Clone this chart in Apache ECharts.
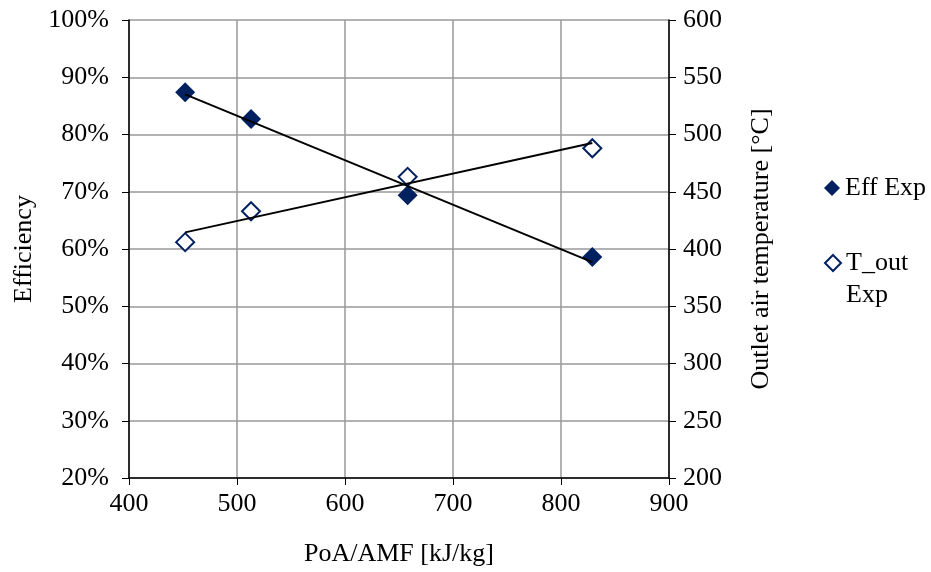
<!DOCTYPE html>
<html>
<head>
<meta charset="utf-8">
<script src="https://cdn.jsdelivr.net/npm/echarts@6/dist/echarts.min.js"></script>
<style>
  html, body { margin: 0; padding: 0; background: #fff; }
  #chart { width: 931px; height: 572px; }
</style>
</head>
<body>
<div id="chart"></div>
<script>
// PoA/AMF [kJ/kg]
const xVals = [452, 513, 658, 829];
// efficiency, %
const effExp = [87.4, 82.7, 69.4, 58.6];
// outlet air temperature, °C
const tOutExp = [406, 433, 463, 488];
// trend line end points
const effTrend = [[452, 87.0], [829, 57.7]];
const tTrend = [[452, 414.5], [829, 492.5]];

const navy = "#002060";
const font = "Liberation Serif";
const fs = 26;

let myChart = echarts.init(document.getElementById("chart"));

let legendBase = {
  orient: "vertical",
  left: 824,
  padding: 0,
  itemWidth: 16,
  itemHeight: 16,
  textStyle: { fontFamily: font, fontSize: fs, color: "#000", lineHeight: 32 }
};

let option = {
  animation: false,
  textStyle: { fontFamily: font, color: "#000" },
  grid: { left: 129, right: 262, top: 20, bottom: 94 },
  legend: [
    Object.assign({}, legendBase, {
      top: 172,
      data: [{ name: "Eff Exp", icon: "diamond" }]
    }),
    Object.assign({}, legendBase, {
      top: 215,
      data: [{ name: "T_out Exp", icon: "diamond" }],
      // empty first line keeps the icon level with "T_out"
      formatter: function() {
        return "\nT_out\nExp";
      }
    })
  ],
  xAxis: {
    type: "value",
    min: 400,
    max: 900,
    interval: 100,
    name: "PoA/AMF [kJ/kg]",
    nameLocation: "middle",
    nameGap: 63,
    nameTextStyle: { fontFamily: font, fontSize: fs, color: "#000" },
    axisLine: { lineStyle: { color: "#000", width: 1.5 } },
    axisTick: { show: true, length: 7, lineStyle: { color: "#000" } },
    axisLabel: { fontFamily: font, fontSize: fs, color: "#000", margin: 13 },
    splitLine: { show: true, lineStyle: { color: "#999", width: 1.5 } }
  },
  yAxis: [
    {
      type: "value",
      min: 20,
      max: 100,
      interval: 10,
      name: "Efficiency",
      nameLocation: "middle",
      nameGap: 87,
      nameTextStyle: { fontFamily: font, fontSize: fs, color: "#000" },
      axisLine: { show: true, lineStyle: { color: "#000", width: 1.5 } },
      axisTick: { show: true, length: 7, lineStyle: { color: "#000" } },
      axisLabel: { fontFamily: font, fontSize: fs, color: "#000", margin: 20, formatter: "{value}%" },
      splitLine: { show: true, lineStyle: { color: "#999", width: 1.5 } }
    },
    {
      type: "value",
      min: 200,
      max: 600,
      interval: 50,
      position: "right",
      name: "Outlet air temperature [°C]",
      nameLocation: "middle",
      nameGap: 79,
      nameRotate: 90,
      nameTextStyle: { fontFamily: font, fontSize: fs, color: "#000" },
      axisLine: { show: true, lineStyle: { color: "#000", width: 1.5 } },
      axisTick: { show: true, length: 7, lineStyle: { color: "#000" } },
      axisLabel: { fontFamily: font, fontSize: fs, color: "#000", margin: 14 },
      splitLine: { show: false }
    }
  ],
  series: [
    {
      name: "Eff trend",
      type: "line",
      yAxisIndex: 0,
      symbol: "none",
      lineStyle: { color: "#000", width: 2 },
      data: effTrend,
      z: 3
    },
    {
      name: "T trend",
      type: "line",
      yAxisIndex: 1,
      symbol: "none",
      lineStyle: { color: "#000", width: 2 },
      data: tTrend,
      z: 3
    },
    {
      name: "Eff Exp",
      type: "scatter",
      yAxisIndex: 0,
      symbol: "diamond",
      symbolSize: 20,
      itemStyle: { color: navy, opacity: 1 },
      data: xVals.map((x, i) => [x, effExp[i]]),
      z: 2
    },
    {
      name: "T_out Exp",
      type: "scatter",
      yAxisIndex: 1,
      symbol: "diamond",
      symbolSize: 18,
      itemStyle: { color: "#fff", borderColor: navy, borderWidth: 2, opacity: 1 },
      data: xVals.map((x, i) => [x, tOutExp[i]]),
      z: 2
    }
  ]
};
myChart.setOption(option);
</script>
</body>
</html>
